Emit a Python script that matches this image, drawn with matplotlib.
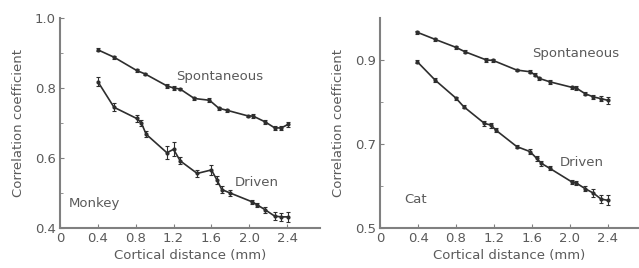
import matplotlib
matplotlib.use("Agg")
from matplotlib import pyplot as plt

# Monkey data
monkey_x_spont = [0.4, 0.57, 0.81, 0.9, 1.13, 1.2, 1.27, 1.42, 1.58, 1.68, 1.77, 1.99, 2.04, 2.17, 2.27, 2.34, 2.41]
monkey_spont = [0.909, 0.888, 0.85, 0.84, 0.806, 0.80, 0.797, 0.77, 0.765, 0.742, 0.736, 0.72, 0.72, 0.703, 0.686, 0.686, 0.696]
monkey_spont_err = [0.004, 0.004, 0.004, 0.004, 0.005, 0.005, 0.004, 0.004, 0.006, 0.005, 0.004, 0.004, 0.005, 0.005, 0.006, 0.006, 0.008]

monkey_x_drv = [0.4, 0.57, 0.81, 0.86, 0.91, 1.13, 1.2, 1.27, 1.45, 1.6, 1.66, 1.71, 1.8, 2.03, 2.08, 2.17, 2.27, 2.34, 2.41]
monkey_drv = [0.818, 0.745, 0.713, 0.70, 0.668, 0.615, 0.625, 0.592, 0.556, 0.566, 0.537, 0.51, 0.50, 0.475, 0.467, 0.452, 0.434, 0.432, 0.432]
monkey_drv_err = [0.012, 0.012, 0.01, 0.008, 0.008, 0.018, 0.02, 0.01, 0.01, 0.014, 0.012, 0.01, 0.008, 0.006, 0.006, 0.008, 0.012, 0.012, 0.014]

# Cat data
cat_x_spont = [0.39, 0.58, 0.8, 0.89, 1.12, 1.19, 1.44, 1.58, 1.63, 1.68, 1.79, 2.02, 2.07, 2.16, 2.25, 2.33, 2.4]
cat_spont = [0.966, 0.949, 0.93, 0.92, 0.90, 0.899, 0.876, 0.872, 0.865, 0.856, 0.848, 0.835, 0.833, 0.82, 0.812, 0.808, 0.804]
cat_spont_err = [0.003, 0.003, 0.003, 0.003, 0.004, 0.004, 0.003, 0.004, 0.004, 0.004, 0.004, 0.004, 0.004, 0.004, 0.005, 0.006, 0.008]

cat_x_drv = [0.39, 0.58, 0.8, 0.88, 1.1, 1.17, 1.22, 1.44, 1.58, 1.65, 1.7, 1.79, 2.02, 2.07, 2.16, 2.25, 2.33, 2.4]
cat_drv = [0.896, 0.852, 0.809, 0.789, 0.749, 0.745, 0.733, 0.694, 0.682, 0.666, 0.654, 0.642, 0.61, 0.607, 0.594, 0.583, 0.569, 0.566]
cat_drv_err = [0.004, 0.004, 0.004, 0.004, 0.006, 0.006, 0.005, 0.004, 0.006, 0.006, 0.006, 0.005, 0.005, 0.005, 0.006, 0.01, 0.01, 0.012]

xticks = [0, 0.4, 0.8, 1.2, 1.6, 2.0, 2.4]
xticklabels = ["0", "0.4", "0.8", "1.2", "1.6", "2.0", "2.4"]

plt.rcParams['font.family'] = ['DejaVu Sans']
ink = "#2e2e2e"
txt = "#5a5a5a"
fs = 9.5

fig = plt.figure(figsize=(6.39, 2.68), dpi=100)
ax1 = fig.add_axes([0.094, 0.149, 0.407, 0.784])
ax2 = fig.add_axes([0.595, 0.149, 0.405, 0.784])

def style(ax, xlim, ylim, yticks, ylabels, yminor):
    ax.set_xlim(*xlim)
    ax.set_ylim(*ylim)
    for s in ["top", "right"]:
        ax.spines[s].set_visible(False)
    for s in ["left", "bottom"]:
        ax.spines[s].set_color("#808080")
        ax.spines[s].set_linewidth(1.5)
    ax.set_xticks(xticks)
    ax.set_xticklabels(xticklabels)
    ax.set_yticks(yticks)
    ax.set_yticklabels(ylabels)
    ax.set_yticks(yminor, minor=True)
    ax.tick_params(direction="in", length=3, width=0.8, colors="#808080",
                   labelcolor=txt, labelsize=fs, pad=3)
    ax.tick_params(which="minor", direction="in", length=2, colors="#808080")
    ax.set_xlabel("Cortical distance (mm)", fontsize=fs, color=txt, labelpad=3)
    ax.set_ylabel("Correlation coefficient", fontsize=fs, color=txt, labelpad=7)

def series(ax, x, y, e):
    ax.errorbar(x, y, yerr=e, color=ink, linewidth=1.2, marker="o", markersize=2,
                capsize=1.5, elinewidth=0.8, capthick=0.8)

series(ax1, monkey_x_spont, monkey_spont, monkey_spont_err)
series(ax1, monkey_x_drv, monkey_drv, monkey_drv_err)
style(ax1, (0, 2.75), (0.4, 1.0), [0.4, 0.6, 0.8, 1.0], ["0.4", "0.6", "0.8", "1.0"], [0.5, 0.7, 0.9])
ax1.text(1.23, 0.834, "Spontaneous", fontsize=fs, color=txt, va="center")
ax1.text(1.85, 0.531, "Driven", fontsize=fs, color=txt, va="center")
ax1.text(0.09, 0.471, "Monkey", fontsize=fs, color=txt, va="center")

series(ax2, cat_x_spont, cat_spont, cat_spont_err)
series(ax2, cat_x_drv, cat_drv, cat_drv_err)
style(ax2, (0, 2.73), (0.5, 1.0), [0.5, 0.7, 0.9], ["0.5", "0.7", "0.9"], [0.6, 0.8])
ax2.text(1.6, 0.915, "Spontaneous", fontsize=fs, color=txt, va="center")
ax2.text(1.89, 0.655, "Driven", fontsize=fs, color=txt, va="center")
ax2.text(0.25, 0.567, "Cat", fontsize=fs, color=txt, va="center")

fig.savefig("out.png", dpi=100)
